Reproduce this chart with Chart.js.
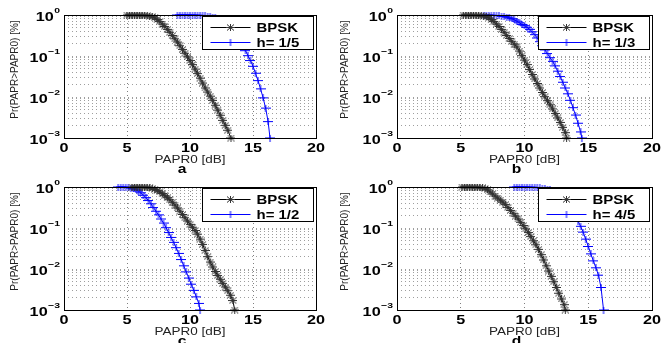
<!DOCTYPE html>
<html>
<head>
<meta charset="utf-8">
<script src="https://cdn.jsdelivr.net/npm/chart.js@4.4.0/dist/chart.umd.min.js"></script>
<style>
  html, body { margin: 0; padding: 0; background: #fff; }
  #fig { position: relative; width: 661px; height: 343px; overflow: hidden; background: #fff; }
  canvas { position: absolute; }
</style>
</head>
<body>
<div id="fig">
  <canvas id="chartA" width="330" height="180" style="left:0;top:0"></canvas>
  <canvas id="chartB" width="331" height="180" style="left:330px;top:0"></canvas>
  <canvas id="chartC" width="330" height="171" style="left:0;top:172px"></canvas>
  <canvas id="chartD" width="331" height="171" style="left:330px;top:172px"></canvas>
</div>
<script>
// axis ticks
const paprTicks = [0, 5, 10, 15, 20];
const prDecades = [1, 0.1, 0.01, 0.001];
const prExponents = ['0', '\u22121', '\u22122', '\u22123'];
const xTitle = 'PAPR0 [dB]';
const yTitle = 'Pr(PAPR>PAPR0) [%]';

// (a) BPSK vs h = 1/5
const bpskA_papr = [5.0,5.2,5.4,5.6,5.8,6.0,6.2,6.4,6.6,6.8,7.0,7.2,7.4,7.6,7.8,8.0,8.2,8.4,8.6,8.8,9.0,9.2,9.4,9.6,9.8,10.0,10.2,10.4,10.6,10.8,11.0,11.2,11.4,11.6,11.8,12.0,12.2,12.4,12.6,12.8,13.0,13.25];
const bpskA_prob = [1,1,1,1,1,0.993,0.988,0.977,0.966,0.944,0.912,0.851,0.776,0.692,0.603,0.525,0.447,0.380,0.316,0.263,0.219,0.178,0.145,0.117,0.0955,0.0776,0.0617,0.0479,0.0372,0.0288,0.0219,0.0166,0.0132,0.0105,0.0083,0.0063,0.0048,0.0036,0.0027,0.00204,0.00155,0.001];
const h15_papr = [9.0,9.2,9.4,9.6,9.8,10.0,10.2,10.4,10.6,10.8,11.0,11.2,11.4,11.6,11.8,12.0,12.2,12.4,12.6,12.8,13.0,13.2,13.4,13.6,13.8,14.0,14.2,14.4,14.6,14.8,15.0,15.2,15.4,15.6,15.8,16.0,16.2,16.35];
const h15_prob = [1,1,1,1,1,1,0.995,0.993,0.989,0.982,0.973,0.959,0.942,0.920,0.891,0.855,0.813,0.759,0.692,0.631,0.562,0.490,0.417,0.347,0.282,0.224,0.174,0.135,0.102,0.0776,0.0562,0.0380,0.0251,0.0158,0.00955,0.00537,0.00251,0.001];

// (b) BPSK vs h = 1/3
const bpskB_papr = [5.2,5.4,5.6,5.8,6.0,6.2,6.4,6.6,6.8,7.0,7.2,7.4,7.6,7.8,8.0,8.2,8.4,8.6,8.8,9.0,9.2,9.4,9.6,9.8,10.0,10.2,10.4,10.6,10.8,11.0,11.2,11.4,11.6,11.8,12.0,12.2,12.4,12.6,12.8,13.0,13.2,13.3];
const bpskB_prob = [1,1,1,1,0.993,0.986,0.977,0.964,0.944,0.912,0.851,0.776,0.692,0.603,0.525,0.447,0.380,0.316,0.269,0.229,0.195,0.166,0.132,0.102,0.0794,0.0617,0.0468,0.0355,0.0275,0.0214,0.0166,0.0129,0.0102,0.00813,0.00646,0.00513,0.00398,0.00309,0.00240,0.00182,0.00135,0.001];
const h13_papr = [6.8,7.0,7.2,7.4,7.6,7.8,8.0,8.2,8.4,8.6,8.8,9.0,9.2,9.4,9.6,9.8,10.0,10.2,10.4,10.6,10.8,11.0,11.2,11.4,11.6,11.8,12.0,12.2,12.4,12.6,12.8,13.0,13.2,13.4,13.6,13.8,14.0,14.2,14.4,14.5];
const h13_prob = [1,1,0.993,0.989,0.982,0.973,0.959,0.942,0.918,0.891,0.851,0.813,0.759,0.708,0.646,0.589,0.550,0.501,0.447,0.389,0.331,0.275,0.224,0.178,0.141,0.115,0.0912,0.0741,0.0575,0.0427,0.0316,0.0229,0.0166,0.0120,0.00832,0.00550,0.00363,0.00229,0.00141,0.001];

// (c) BPSK vs h = 1/2
const bpskC_papr = [5.4,5.6,5.8,6.0,6.2,6.4,6.6,6.8,7.0,7.2,7.4,7.6,7.8,8.0,8.2,8.4,8.6,8.8,9.0,9.2,9.4,9.6,9.8,10.0,10.2,10.4,10.6,10.8,11.0,11.2,11.4,11.6,11.8,12.0,12.2,12.4,12.6,12.8,13.0,13.2,13.4,13.55];
const bpskC_prob = [1,1,1,0.995,0.991,0.984,0.973,0.955,0.923,0.881,0.832,0.759,0.692,0.617,0.550,0.490,0.427,0.363,0.309,0.257,0.214,0.178,0.148,0.123,0.105,0.0870,0.0708,0.0537,0.0398,0.0282,0.0200,0.0148,0.0112,0.00871,0.00692,0.00562,0.00447,0.00363,0.00295,0.00229,0.00170,0.001];
const h12_papr = [4.3,4.5,4.7,4.9,5.1,5.3,5.5,5.7,5.9,6.1,6.3,6.5,6.7,6.9,7.1,7.3,7.5,7.7,7.9,8.1,8.3,8.5,8.7,8.9,9.1,9.3,9.5,9.7,9.9,10.1,10.3,10.5,10.7,10.8];
const h12_prob = [1,1,1,0.993,0.977,0.944,0.902,0.851,0.794,0.724,0.631,0.550,0.468,0.389,0.316,0.257,0.209,0.166,0.132,0.102,0.0776,0.0589,0.0447,0.0331,0.0240,0.0170,0.0120,0.00851,0.00603,0.00427,0.00302,0.00209,0.00145,0.001];

// (d) BPSK vs h = 4/5
const bpskD_papr = [5.1,5.3,5.5,5.7,5.9,6.1,6.3,6.5,6.7,6.9,7.1,7.3,7.5,7.7,7.9,8.1,8.3,8.5,8.7,8.9,9.1,9.3,9.5,9.7,9.9,10.1,10.3,10.5,10.7,10.9,11.1,11.3,11.5,11.7,11.9,12.1,12.3,12.5,12.7,12.9,13.1,13.2];
const bpskD_prob = [1,1,1,1,0.995,0.991,0.982,0.970,0.951,0.923,0.851,0.759,0.676,0.603,0.537,0.479,0.427,0.372,0.316,0.269,0.229,0.195,0.166,0.138,0.115,0.0955,0.0776,0.0617,0.0490,0.0389,0.0302,0.0224,0.0166,0.0120,0.00891,0.00661,0.00490,0.00355,0.00257,0.00186,0.00135,0.001];
const h45_papr = [9.2,9.4,9.6,9.8,10.0,10.2,10.4,10.6,10.8,11.0,11.2,11.4,11.6,11.8,12.0,12.2,12.4,12.6,12.8,13.0,13.2,13.4,13.6,13.8,14.0,14.2,14.4,14.6,14.8,15.0,15.2,15.4,15.6,15.8,16.0,16.2];
const h45_prob = [1,1,1,1,1,0.995,0.993,0.989,0.982,0.973,0.959,0.942,0.918,0.887,0.851,0.804,0.750,0.684,0.617,0.550,0.479,0.398,0.324,0.257,0.200,0.148,0.110,0.0794,0.0537,0.0355,0.0234,0.0158,0.0107,0.00708,0.00355,0.001];

const panels = [
  {id: 'chartA', letter: 'a', hLabel: 'h= 1/5', bx: bpskA_papr, by: bpskA_prob, hx: h15_papr, hy: h15_prob, left: 64, right: 316},
  {id: 'chartB', letter: 'b', hLabel: 'h= 1/3', bx: bpskB_papr, by: bpskB_prob, hx: h13_papr, hy: h13_prob, left: 67, right: 322},
  {id: 'chartC', letter: 'c', hLabel: 'h= 1/2', bx: bpskC_papr, by: bpskC_prob, hx: h12_papr, hy: h12_prob, left: 64, right: 316},
  {id: 'chartD', letter: 'd', hLabel: 'h= 4/5', bx: bpskD_papr, by: bpskD_prob, hx: h45_papr, hy: h45_prob, left: 67, right: 322}
];

const FONT = '"Liberation Sans", Arial, sans-serif';
const BLUE = '#0000ff';

// marker images (MATLAB '*' and '+', a bit wider than tall like the picture)
function markerImg(kind) {
  const c = document.createElement('canvas');
  c.width = kind === 'plus' ? 10 : 9;
  c.height = 7;
  const g = c.getContext('2d');
  g.lineWidth = 1;
  g.strokeStyle = kind === 'plus' ? BLUE : '#333';
  g.beginPath();
  g.moveTo(0, 3.5); g.lineTo(c.width, 3.5);
  g.moveTo(c.width / 2, 0); g.lineTo(c.width / 2, 7);
  if (kind === 'star') {
    g.moveTo(1, 0.5); g.lineTo(8, 6.5);
    g.moveTo(8, 0.5); g.lineTo(1, 6.5);
  }
  g.stroke();
  return c;
}
const starImg = markerImg('star');
const plusImg = markerImg('plus');

function sText(ctx, txt, x, y, font, align, sx) {
  ctx.save();
  ctx.font = font;
  ctx.translate(x, y);
  ctx.scale(sx, 1);
  ctx.textAlign = align;
  ctx.textBaseline = 'alphabetic';
  ctx.fillText(txt, 0, 0);
  ctx.restore();
}

function decor(p) {
  return {
    id: 'decor',
    afterDraw(chart) {
      const ctx = chart.ctx;
      const ca = chart.chartArea;
      const xs = chart.scales.x, ys = chart.scales.y;
      ctx.save();
      ctx.fillStyle = '#000';

      // x tick labels
      paprTicks.forEach(v => {
        sText(ctx, String(v), xs.getPixelForValue(v), ca.bottom + 14, 'bold 12px ' + FONT, 'center', 1.35);
      });
      // y tick labels 10^k
      prDecades.forEach((v, i) => {
        const py = ys.getPixelForValue(v);
        const xr = ca.left - 4;
        ctx.font = 'bold 8px ' + FONT;
        const we = ctx.measureText(prExponents[i]).width * 1.3;
        sText(ctx, prExponents[i], xr - we, py - 2.5, 'bold 8px ' + FONT, 'left', 1.3);
        sText(ctx, '10', xr - we - 0.5, py + 5.5, 'bold 12px ' + FONT, 'right', 1.35);
      });
      // axis titles
      ctx.fillStyle = '#222';
      sText(ctx, xTitle, (ca.left + ca.right) / 2, ca.bottom + 25, '10px ' + FONT, 'center', 1.35);
      ctx.save();
      ctx.translate(18, (ca.top + ca.bottom) / 2 - 7);
      ctx.rotate(-Math.PI / 2);
      ctx.font = '10px ' + FONT;
      ctx.textAlign = 'center';
      ctx.textBaseline = 'alphabetic';
      ctx.fillText(yTitle, 0, 0);
      ctx.restore();
      // panel letter
      ctx.fillStyle = '#000';
      sText(ctx, p.letter, (ca.left + ca.right) / 2 - 8, ca.bottom + 35, 'bold 12px ' + FONT, 'center', 1.3);

      // axes box
      ctx.strokeStyle = '#000';
      ctx.lineWidth = 1;
      ctx.strokeRect(Math.round(ca.left) + 0.5, Math.round(ca.top) + 0.5,
        Math.round(ca.right) - Math.round(ca.left), Math.round(ca.bottom) - Math.round(ca.top));

      // legend box
      const lx = Math.round(ca.right) - 113.5, ly = Math.round(ca.top) + 1.5;
      ctx.fillStyle = '#fff';
      ctx.fillRect(lx, ly, 111, 33);
      ctx.strokeRect(lx, ly, 111, 33);
      const rows = [
        {label: 'BPSK', color: '#000', img: starImg},
        {label: p.hLabel, color: BLUE, img: plusImg}
      ];
      rows.forEach((r, i) => {
        const ry = Math.round(ly + 10 + i * 15) + 0.5;
        ctx.strokeStyle = r.color;
        ctx.beginPath();
        ctx.moveTo(lx + 8, ry);
        ctx.lineTo(lx + 48, ry);
        ctx.stroke();
        ctx.drawImage(r.img, lx + 28 - r.img.width / 2, ry - r.img.height / 2);
        ctx.fillStyle = '#000';
        sText(ctx, r.label, lx + 54, ry + 4.5, 'bold 13px ' + FONT, 'left', 1.15);
      });
      ctx.restore();
    }
  };
}

function pts(xs, ys) {
  return xs.map((x, i) => ({x: x, y: ys[i]}));
}

panels.forEach(p => {
  const cv = document.getElementById(p.id);
  const W = cv.width, H = cv.height;
  new Chart(cv.getContext('2d'), {
    type: 'line',
    data: {
      datasets: [
        {label: 'BPSK', data: pts(p.bx, p.by), borderColor: '#000', borderWidth: 1,
         pointStyle: starImg, pointRadius: 3, tension: 0, clip: false},
        {label: p.hLabel, data: pts(p.hx, p.hy), borderColor: BLUE, borderWidth: 1,
         pointStyle: plusImg, pointRadius: 3, tension: 0, clip: false}
      ]
    },
    options: {
      responsive: false,
      animation: false,
      devicePixelRatio: 1,
      events: [],
      layout: {padding: {left: 0, top: 15, right: W - p.right, bottom: 0}},
      plugins: {legend: {display: false}, tooltip: {enabled: false}},
      scales: {
        x: {
          type: 'linear', min: 0, max: 20,
          afterBuildTicks: s => { s.ticks = paprTicks.map(v => ({value: v})); },
          afterFit: s => { s.height = H - 138; },
          ticks: {display: false},
          grid: {color: 'rgba(0,0,0,0.5)', lineWidth: 1, drawTicks: false},
          border: {display: false, dash: [1, 3]}
        },
        y: {
          type: 'logarithmic', min: 0.001, max: 1,
          afterBuildTicks: s => {
            const t = [];
            [0.001, 0.01, 0.1].forEach(d => {
              for (let k = 1; k < 10; k++) t.push({value: d * k});
            });
            t.push({value: 1});
            s.ticks = t;
          },
          afterFit: s => { s.width = p.left; },
          ticks: {display: false},
          grid: {color: 'rgba(0,0,0,0.38)', lineWidth: 1, drawTicks: false},
          border: {display: false, dash: [1, 3]}
        }
      }
    },
    plugins: [decor(p)]
  });
});
</script>
</body>
</html>
